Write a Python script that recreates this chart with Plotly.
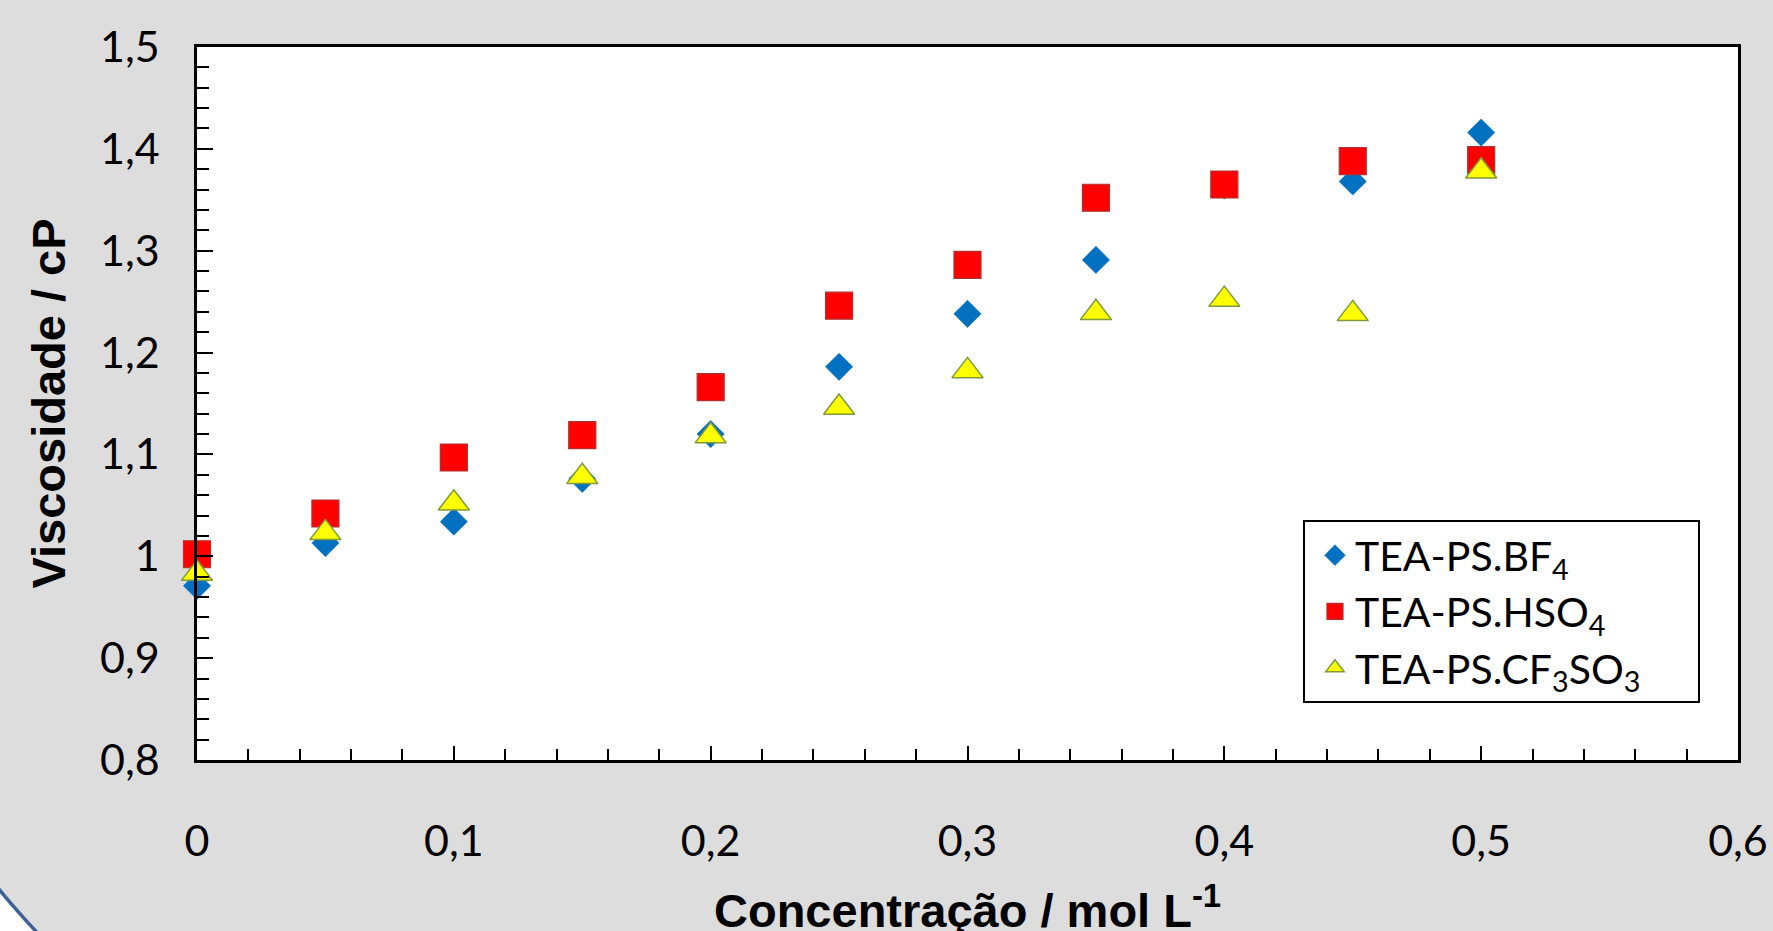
import plotly.graph_objects as go

# ---- data ----
conc = [0, 0.05, 0.1, 0.15, 0.2, 0.25, 0.3, 0.35, 0.4, 0.45, 0.5]
visc_bf4 = [0.971, 1.013, 1.034, 1.076, 1.120, 1.186, 1.238, 1.291, 1.364, 1.368, 1.416]
visc_hso4 = [1.002, 1.042, 1.097, 1.119, 1.166, 1.246, 1.286, 1.352, 1.365, 1.388, 1.389]
visc_cf3so3 = [0.983, 1.023, 1.052, 1.078, 1.118, 1.146, 1.182, 1.239, 1.252, 1.238, 1.378]

names = ["TEA-PS.BF<sub>4</sub>", "TEA-PS.HSO<sub>4</sub>",
         "TEA-PS.CF<sub>3</sub>SO<sub>3</sub>\u00a0\u00a0\u00a0\u00a0\u00a0"]

x_title = "Concentração / mol L<sup>-1</sup>"
y_title = "Viscosidade / cP"

x_ticks = [0, 0.1, 0.2, 0.3, 0.4, 0.5, 0.6]
x_ticktext = ["0", "0,1", "0,2", "0,3", "0,4", "0,5", "0,6"]
y_ticks = [0.8, 0.9, 1.0, 1.1, 1.2, 1.3, 1.4, 1.5]
y_ticktext = ["0,8", "0,9", "1", "1,1", "1,2", "1,3", "1,4", "1,5"]

W, H = 1773, 931
ML, MR, MT, MB = 197, 35, 47, 171
PW, PH = W - ML - MR, H - MT - MB

def px2paper(px, py):
    return (px - ML) / PW, (H - MB - py) / PH

fig = go.Figure()
fig.add_trace(go.Scatter(
    x=conc, y=visc_bf4, mode="markers", name=names[0],
    marker=dict(symbol="diamond", size=21, color="#0070C0",
                line=dict(width=0.5, color="#0066B3")),
    cliponaxis=False))
fig.add_trace(go.Scatter(
    x=conc, y=visc_hso4, mode="markers", name=names[1],
    marker=dict(symbol="square", size=27, color="#FF0000",
                line=dict(width=1.2, color="#B03030")),
    cliponaxis=False))
fig.add_trace(go.Scatter(
    x=conc, y=visc_cf3so3, mode="markers", name=names[2],
    marker=dict(symbol="triangle-up", size=27, color="#FFFF00",
                line=dict(width=1.5, color="#7F9A3A")),
    cliponaxis=False))

# decorative slide arc in bottom-left corner
p0 = px2paper(-6, 883)
c1 = px2paper(14, 908)
p2 = px2paper(44, 940)
p3 = px2paper(-6, 940)
path = (f"M {p0[0]},{p0[1]} Q {c1[0]},{c1[1]} {p2[0]},{p2[1]} "
        f"L {p3[0]},{p3[1]} Z")
fig.add_shape(type="path", xref="paper", yref="paper", path=path,
              fillcolor="white", line=dict(color="#3D6193", width=3.5),
              layer="above")

# x-axis title as annotation (sits partly below the bottom edge as in the reference)
tx, ty = px2paper(967, 907)
fig.add_annotation(x=0.5, y=ty, xref="paper", yref="paper",
                   xanchor="center", yanchor="middle", showarrow=False,
                   text=x_title,
                   font=dict(family="Liberation Sans", size=47,
                             color="black", weight="bold"))

axis_common = dict(
    showgrid=False, zeroline=False, showline=True, linecolor="black",
    linewidth=2.5, mirror=True, ticks="inside", tickcolor="black",
    tickwidth=2, tickfont=dict(family="Lato", size=43, color="black"),
)

fig.update_layout(
    width=W, height=H,
    margin=dict(l=ML, r=MR, t=MT, b=MB, autoexpand=False),
    paper_bgcolor="#DDDDDD", plot_bgcolor="white",
    showlegend=True,
    legend=dict(x=0.7177, y=0.3366, xanchor="left", yanchor="top",
                bgcolor="white", bordercolor="black", borderwidth=2,
                font=dict(family="Lato", size=41, color="black"),
                itemsizing="trace", tracegroupgap=0, indentation=10),
    xaxis=dict(range=[0, 0.6], tickvals=x_ticks, ticktext=x_ticktext,
               ticklen=14, ticklabelstandoff=42,
               minor=dict(dtick=0.02, ticks="inside", ticklen=11,
                          tickwidth=2, tickcolor="black"),
               **axis_common),
    yaxis=dict(range=[0.8, 1.5], tickvals=y_ticks, ticktext=y_ticktext,
               ticklen=16, ticklabelstandoff=26,
               minor=dict(dtick=0.02, ticks="inside", ticklen=12,
                          tickwidth=2, tickcolor="black"),
               title=dict(text=y_title,
                          font=dict(family="Liberation Sans", size=47,
                                    color="black", weight="bold"),
                          standoff=20),
               **axis_common),
)

fig.write_html("out.html", config={"displayModeBar": False},
               post_script="document.body.style.margin='0px';")
